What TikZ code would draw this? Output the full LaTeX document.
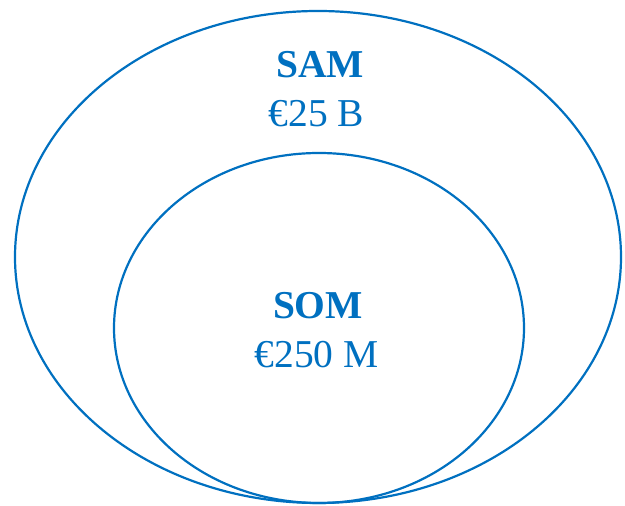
\documentclass[tikz,border=0pt]{standalone}
\usepackage{fontspec}
\setmainfont{Liberation Serif}
\definecolor{mktblue}{HTML}{0070C0}
\begin{document}
\begin{tikzpicture}[x=1pt,y=1pt,
  ring/.style={draw=mktblue,line width=2.2pt},
  label/.style={text=mktblue,inner sep=0pt,anchor=base,font=\fontsize{39.5}{47}\selectfont}]
\useasboundingbox (0,0) rectangle (625,506);
% market circles
\draw[ring] (318,249) ellipse [x radius=303, y radius=246];
\draw[ring] (319,178) ellipse [x radius=205, y radius=175];
% serviceable available market
\node[label,font=\fontsize{39.5}{47}\selectfont\bfseries] (samtitle) at (320,428.3) {SAM};
\node[label] (samvalue) at (316.5,379) {€25 B};
% serviceable obtainable market
\node[label,font=\fontsize{39.5}{47}\selectfont\bfseries] (somtitle) at (318,187) {SOM};
\node[label] (somvalue) at (316.5,138) {€250 M};
\end{tikzpicture}
\end{document}
